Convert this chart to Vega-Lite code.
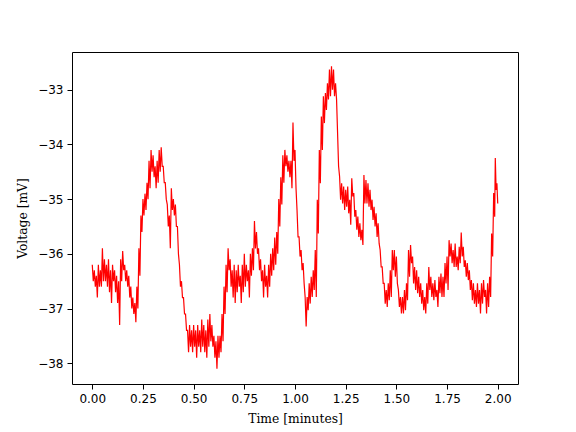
{
  "$schema": "https://vega.github.io/schema/vega-lite/v6.json",
  "width": 446,
  "height": 332,
  "autosize": {"type": "none"},
  "padding": {"left": 72, "top": 52, "right": 58, "bottom": 48},
  "background": "white",
  "config": {
    "view": {"stroke": "#000", "strokeWidth": 1},
    "axis": {
      "domain": false,
      "grid": false,
      "ticks": true,
      "tickColor": "#000",
      "tickSize": 5,
      "tickWidth": 1,
      "labelFont": "DejaVu Sans",
      "labelFontSize": 12,
      "labelColor": "#000",
      "labelPadding": 4,
      "titleFont": "DejaVu Serif",
      "titleFontSize": 12.3,
      "titleFontWeight": "normal",
      "titleColor": "#000"
    }
  },
  "data": {"values": [
    {"t":0.000,"v":-36.2},{"t":0.005,"v":-36.5},
    {"t":0.010,"v":-36.3},{"t":0.015,"v":-36.6},
    {"t":0.020,"v":-36.4},{"t":0.025,"v":-36.8},
    {"t":0.030,"v":-36.2},{"t":0.035,"v":-36.6},
    {"t":0.040,"v":-36.3},{"t":0.045,"v":-36.6},
    {"t":0.050,"v":-35.9},{"t":0.055,"v":-36.5},
    {"t":0.060,"v":-36.1},{"t":0.065,"v":-36.5},
    {"t":0.070,"v":-36.2},{"t":0.075,"v":-36.6},
    {"t":0.080,"v":-36.1},{"t":0.085,"v":-36.7},
    {"t":0.090,"v":-36.3},{"t":0.095,"v":-36.9},
    {"t":0.100,"v":-36.2},{"t":0.105,"v":-36.5},
    {"t":0.110,"v":-36.3},{"t":0.115,"v":-36.7},
    {"t":0.120,"v":-36.4},{"t":0.125,"v":-36.9},
    {"t":0.130,"v":-36.5},{"t":0.135,"v":-37.3},
    {"t":0.140,"v":-36.1},{"t":0.145,"v":-36.5},
    {"t":0.150,"v":-35.95},{"t":0.155,"v":-36.3},
    {"t":0.160,"v":-36.2},{"t":0.165,"v":-36.5},
    {"t":0.170,"v":-36.3},{"t":0.175,"v":-36.6},
    {"t":0.180,"v":-36.4},{"t":0.185,"v":-36.8},
    {"t":0.190,"v":-36.6},{"t":0.195,"v":-37.0},
    {"t":0.200,"v":-36.8},{"t":0.205,"v":-37.1},
    {"t":0.210,"v":-36.9},{"t":0.215,"v":-37.25},
    {"t":0.220,"v":-36.6},{"t":0.225,"v":-37.0},
    {"t":0.230,"v":-35.9},{"t":0.235,"v":-36.4},
    {"t":0.240,"v":-35.3},{"t":0.245,"v":-35.6},
    {"t":0.250,"v":-35.0},{"t":0.255,"v":-35.3},
    {"t":0.260,"v":-34.9},{"t":0.265,"v":-35.2},
    {"t":0.270,"v":-34.7},{"t":0.275,"v":-35.0},
    {"t":0.280,"v":-34.3},{"t":0.285,"v":-34.8},
    {"t":0.290,"v":-34.1},{"t":0.295,"v":-34.5},
    {"t":0.300,"v":-34.2},{"t":0.305,"v":-34.6},
    {"t":0.310,"v":-34.4},{"t":0.315,"v":-34.8},
    {"t":0.320,"v":-34.3},{"t":0.325,"v":-34.7},
    {"t":0.330,"v":-34.1},{"t":0.335,"v":-34.5},
    {"t":0.340,"v":-34.05},{"t":0.345,"v":-34.4},
    {"t":0.350,"v":-34.4},{"t":0.355,"v":-34.7},
    {"t":0.360,"v":-34.7},{"t":0.365,"v":-35.0},
    {"t":0.370,"v":-35.1},{"t":0.375,"v":-35.5},
    {"t":0.380,"v":-35.3},{"t":0.385,"v":-35.9},
    {"t":0.390,"v":-34.8},{"t":0.395,"v":-35.2},
    {"t":0.400,"v":-35.0},{"t":0.405,"v":-35.3},
    {"t":0.410,"v":-35.1},{"t":0.415,"v":-35.5},
    {"t":0.420,"v":-35.5},{"t":0.425,"v":-36.0},
    {"t":0.430,"v":-36.2},{"t":0.435,"v":-36.6},
    {"t":0.440,"v":-36.5},{"t":0.445,"v":-36.8},
    {"t":0.450,"v":-36.8},{"t":0.455,"v":-37.1},
    {"t":0.460,"v":-37.1},{"t":0.465,"v":-37.4},
    {"t":0.470,"v":-37.4},{"t":0.475,"v":-37.8},
    {"t":0.480,"v":-37.3},{"t":0.485,"v":-37.7},
    {"t":0.490,"v":-37.4},{"t":0.495,"v":-37.8},
    {"t":0.500,"v":-37.3},{"t":0.505,"v":-37.7},
    {"t":0.510,"v":-37.4},{"t":0.515,"v":-37.9},
    {"t":0.520,"v":-37.3},{"t":0.525,"v":-37.7},
    {"t":0.530,"v":-37.4},{"t":0.535,"v":-37.8},
    {"t":0.540,"v":-37.2},{"t":0.545,"v":-37.7},
    {"t":0.550,"v":-37.3},{"t":0.555,"v":-37.8},
    {"t":0.560,"v":-37.4},{"t":0.565,"v":-37.9},
    {"t":0.570,"v":-37.2},{"t":0.575,"v":-37.7},
    {"t":0.580,"v":-37.1},{"t":0.585,"v":-37.6},
    {"t":0.590,"v":-37.3},{"t":0.595,"v":-37.7},
    {"t":0.600,"v":-37.5},{"t":0.605,"v":-37.9},
    {"t":0.610,"v":-37.6},{"t":0.615,"v":-38.1},
    {"t":0.620,"v":-37.5},{"t":0.625,"v":-37.9},
    {"t":0.630,"v":-37.5},{"t":0.635,"v":-37.8},
    {"t":0.640,"v":-37.1},{"t":0.645,"v":-37.6},
    {"t":0.650,"v":-36.6},{"t":0.655,"v":-37.1},
    {"t":0.660,"v":-36.2},{"t":0.665,"v":-36.7},
    {"t":0.670,"v":-35.9},{"t":0.675,"v":-36.3},
    {"t":0.680,"v":-36.1},{"t":0.685,"v":-36.6},
    {"t":0.690,"v":-36.3},{"t":0.695,"v":-36.8},
    {"t":0.700,"v":-36.2},{"t":0.705,"v":-36.9},
    {"t":0.710,"v":-36.3},{"t":0.715,"v":-36.7},
    {"t":0.720,"v":-36.2},{"t":0.725,"v":-36.6},
    {"t":0.730,"v":-36.4},{"t":0.735,"v":-36.9},
    {"t":0.740,"v":-36.2},{"t":0.745,"v":-36.7},
    {"t":0.750,"v":-36.0},{"t":0.755,"v":-36.6},
    {"t":0.760,"v":-36.2},{"t":0.765,"v":-36.5},
    {"t":0.770,"v":-36.3},{"t":0.775,"v":-36.8},
    {"t":0.780,"v":-36.0},{"t":0.785,"v":-36.4},
    {"t":0.790,"v":-35.9},{"t":0.795,"v":-36.3},
    {"t":0.800,"v":-35.4},{"t":0.805,"v":-35.9},
    {"t":0.810,"v":-35.6},{"t":0.815,"v":-36.0},
    {"t":0.820,"v":-35.9},{"t":0.825,"v":-36.3},
    {"t":0.830,"v":-36.1},{"t":0.835,"v":-36.5},
    {"t":0.840,"v":-36.3},{"t":0.845,"v":-36.8},
    {"t":0.850,"v":-36.2},{"t":0.855,"v":-36.6},
    {"t":0.860,"v":-36.4},{"t":0.865,"v":-36.8},
    {"t":0.870,"v":-36.2},{"t":0.875,"v":-36.6},
    {"t":0.880,"v":-36.0},{"t":0.885,"v":-36.4},
    {"t":0.890,"v":-35.9},{"t":0.895,"v":-36.3},
    {"t":0.900,"v":-35.7},{"t":0.905,"v":-36.2},
    {"t":0.910,"v":-35.6},{"t":0.915,"v":-36.0},
    {"t":0.920,"v":-35.0},{"t":0.925,"v":-35.5},
    {"t":0.930,"v":-34.6},{"t":0.935,"v":-35.1},
    {"t":0.940,"v":-34.2},{"t":0.945,"v":-34.7},
    {"t":0.950,"v":-34.1},{"t":0.955,"v":-34.4},
    {"t":0.960,"v":-34.2},{"t":0.965,"v":-34.5},
    {"t":0.970,"v":-34.3},{"t":0.975,"v":-34.6},
    {"t":0.980,"v":-34.3},{"t":0.985,"v":-34.8},
    {"t":0.990,"v":-33.6},{"t":0.995,"v":-34.3},
    {"t":1.000,"v":-34.1},{"t":1.005,"v":-34.8},
    {"t":1.010,"v":-35.2},{"t":1.015,"v":-35.69},
    {"t":1.020,"v":-35.69},{"t":1.025,"v":-36.05},
    {"t":1.030,"v":-35.93},{"t":1.035,"v":-36.3},
    {"t":1.040,"v":-36.17},{"t":1.045,"v":-36.54},
    {"t":1.050,"v":-36.79},{"t":1.055,"v":-37.33},
    {"t":1.060,"v":-36.79},{"t":1.065,"v":-37.03},
    {"t":1.070,"v":-36.54},{"t":1.075,"v":-36.91},
    {"t":1.080,"v":-36.42},{"t":1.085,"v":-36.79},
    {"t":1.090,"v":-36.3},{"t":1.095,"v":-36.66},
    {"t":1.100,"v":-35.93},{"t":1.105,"v":-36.79},
    {"t":1.110,"v":-35.01},{"t":1.115,"v":-35.63},
    {"t":1.120,"v":-34.1},{"t":1.125,"v":-34.71},
    {"t":1.130,"v":-33.49},{"t":1.135,"v":-34.1},
    {"t":1.140,"v":-33.12},{"t":1.145,"v":-33.61},
    {"t":1.150,"v":-33.06},{"t":1.155,"v":-33.37},
    {"t":1.160,"v":-32.88},{"t":1.165,"v":-33.18},
    {"t":1.170,"v":-32.63},{"t":1.175,"v":-33.12},
    {"t":1.180,"v":-32.57},{"t":1.185,"v":-33.0},
    {"t":1.190,"v":-32.63},{"t":1.195,"v":-33.12},
    {"t":1.200,"v":-32.88},{"t":1.205,"v":-33.18},
    {"t":1.210,"v":-33.79},{"t":1.215,"v":-34.4},
    {"t":1.220,"v":-34.59},{"t":1.225,"v":-35.01},
    {"t":1.230,"v":-34.71},{"t":1.235,"v":-35.08},
    {"t":1.240,"v":-34.77},{"t":1.245,"v":-35.2},
    {"t":1.250,"v":-34.83},{"t":1.255,"v":-35.14},
    {"t":1.260,"v":-34.77},{"t":1.265,"v":-35.26},
    {"t":1.270,"v":-35.01},{"t":1.275,"v":-35.47},
    {"t":1.280,"v":-34.62},{"t":1.285,"v":-34.95},
    {"t":1.290,"v":-34.89},{"t":1.295,"v":-35.32},
    {"t":1.300,"v":-35.2},{"t":1.305,"v":-35.56},
    {"t":1.310,"v":-35.32},{"t":1.315,"v":-35.69},
    {"t":1.320,"v":-35.44},{"t":1.325,"v":-35.75},
    {"t":1.330,"v":-35.56},{"t":1.335,"v":-35.84},
    {"t":1.340,"v":-34.56},{"t":1.345,"v":-35.08},
    {"t":1.350,"v":-34.65},{"t":1.355,"v":-35.08},
    {"t":1.360,"v":-34.71},{"t":1.365,"v":-35.14},
    {"t":1.370,"v":-34.83},{"t":1.375,"v":-35.2},
    {"t":1.380,"v":-35.01},{"t":1.385,"v":-35.38},
    {"t":1.390,"v":-35.14},{"t":1.395,"v":-35.5},
    {"t":1.400,"v":-35.26},{"t":1.405,"v":-35.69},
    {"t":1.410,"v":-35.44},{"t":1.415,"v":-35.81},
    {"t":1.420,"v":-35.93},{"t":1.425,"v":-36.24},
    {"t":1.430,"v":-36.24},{"t":1.435,"v":-36.54},
    {"t":1.440,"v":-36.54},{"t":1.445,"v":-36.91},
    {"t":1.450,"v":-36.66},{"t":1.455,"v":-36.97},
    {"t":1.460,"v":-36.54},{"t":1.465,"v":-36.85},
    {"t":1.470,"v":-36.3},{"t":1.475,"v":-36.79},
    {"t":1.480,"v":-35.93},{"t":1.485,"v":-36.3},
    {"t":1.490,"v":-35.93},{"t":1.495,"v":-36.42},
    {"t":1.500,"v":-36.05},{"t":1.505,"v":-36.54},
    {"t":1.510,"v":-36.66},{"t":1.515,"v":-36.97},
    {"t":1.520,"v":-36.79},{"t":1.525,"v":-37.09},
    {"t":1.530,"v":-36.79},{"t":1.535,"v":-37.09},
    {"t":1.540,"v":-36.66},{"t":1.545,"v":-37.03},
    {"t":1.550,"v":-36.54},{"t":1.555,"v":-36.85},
    {"t":1.560,"v":-35.93},{"t":1.565,"v":-36.42},
    {"t":1.570,"v":-35.84},{"t":1.575,"v":-36.17},
    {"t":1.580,"v":-36.05},{"t":1.585,"v":-36.54},
    {"t":1.590,"v":-36.24},{"t":1.595,"v":-36.66},
    {"t":1.600,"v":-36.3},{"t":1.605,"v":-36.72},
    {"t":1.610,"v":-36.42},{"t":1.615,"v":-36.79},
    {"t":1.620,"v":-36.54},{"t":1.625,"v":-36.91},
    {"t":1.630,"v":-36.66},{"t":1.635,"v":-37.03},
    {"t":1.640,"v":-36.79},{"t":1.645,"v":-37.09},
    {"t":1.650,"v":-36.54},{"t":1.655,"v":-36.91},
    {"t":1.660,"v":-36.24},{"t":1.665,"v":-36.66},
    {"t":1.670,"v":-36.42},{"t":1.675,"v":-36.79},
    {"t":1.680,"v":-36.54},{"t":1.685,"v":-36.85},
    {"t":1.690,"v":-36.48},{"t":1.695,"v":-36.79},
    {"t":1.700,"v":-36.66},{"t":1.705,"v":-36.97},
    {"t":1.710,"v":-36.42},{"t":1.715,"v":-36.72},
    {"t":1.720,"v":-36.36},{"t":1.725,"v":-36.79},
    {"t":1.730,"v":-36.42},{"t":1.735,"v":-36.79},
    {"t":1.740,"v":-36.17},{"t":1.745,"v":-36.54},
    {"t":1.750,"v":-36.05},{"t":1.755,"v":-36.66},
    {"t":1.760,"v":-35.75},{"t":1.765,"v":-36.05},
    {"t":1.770,"v":-35.81},{"t":1.775,"v":-36.17},
    {"t":1.780,"v":-35.93},{"t":1.785,"v":-36.24},
    {"t":1.790,"v":-35.81},{"t":1.795,"v":-36.24},
    {"t":1.800,"v":-36.05},{"t":1.805,"v":-36.3},
    {"t":1.810,"v":-35.87},{"t":1.815,"v":-36.17},
    {"t":1.820,"v":-35.61},{"t":1.825,"v":-36.05},
    {"t":1.830,"v":-35.87},{"t":1.835,"v":-36.24},
    {"t":1.840,"v":-36.12},{"t":1.845,"v":-36.42},
    {"t":1.850,"v":-36.17},{"t":1.855,"v":-36.48},
    {"t":1.860,"v":-36.3},{"t":1.865,"v":-36.66},
    {"t":1.870,"v":-36.48},{"t":1.875,"v":-36.85},
    {"t":1.880,"v":-36.54},{"t":1.885,"v":-36.91},
    {"t":1.890,"v":-36.66},{"t":1.895,"v":-36.97},
    {"t":1.900,"v":-36.54},{"t":1.905,"v":-36.91},
    {"t":1.910,"v":-36.66},{"t":1.915,"v":-37.09},
    {"t":1.920,"v":-36.54},{"t":1.925,"v":-36.91},
    {"t":1.930,"v":-36.48},{"t":1.935,"v":-36.79},
    {"t":1.940,"v":-36.66},{"t":1.945,"v":-37.09},
    {"t":1.950,"v":-36.54},{"t":1.955,"v":-36.97},
    {"t":1.960,"v":-36.42},{"t":1.965,"v":-36.79},
    {"t":1.970,"v":-35.63},{"t":1.975,"v":-36.05},
    {"t":1.980,"v":-34.89},{"t":1.985,"v":-35.32},
    {"t":1.988,"v":-34.25},{"t":1.992,"v":-34.83},
    {"t":1.996,"v":-34.71},{"t":2.000,"v":-35.08}
  ]},
  "mark": {"type": "line", "color": "#ff0000", "strokeWidth": 1.2, "clip": true},
  "encoding": {
    "x": {
      "field": "t",
      "type": "quantitative",
      "scale": {"domain": [-0.1, 2.1], "nice": false, "zero": false},
      "axis": {"title": "Time [minutes]", "values": [0, 0.25, 0.5, 0.75, 1, 1.25, 1.5, 1.75, 2], "format": ".2f", "titlePadding": 8}
    },
    "y": {
      "field": "v",
      "type": "quantitative",
      "scale": {"domain": [-38.38, -32.31], "nice": false, "zero": false},
      "axis": {"title": "Voltage [mV]", "values": [-38, -37, -36, -35, -34, -33], "labelExpr": "replace(format(datum.value, 'd'), '-', '−')", "titlePadding": 8}
    }
  }
}
